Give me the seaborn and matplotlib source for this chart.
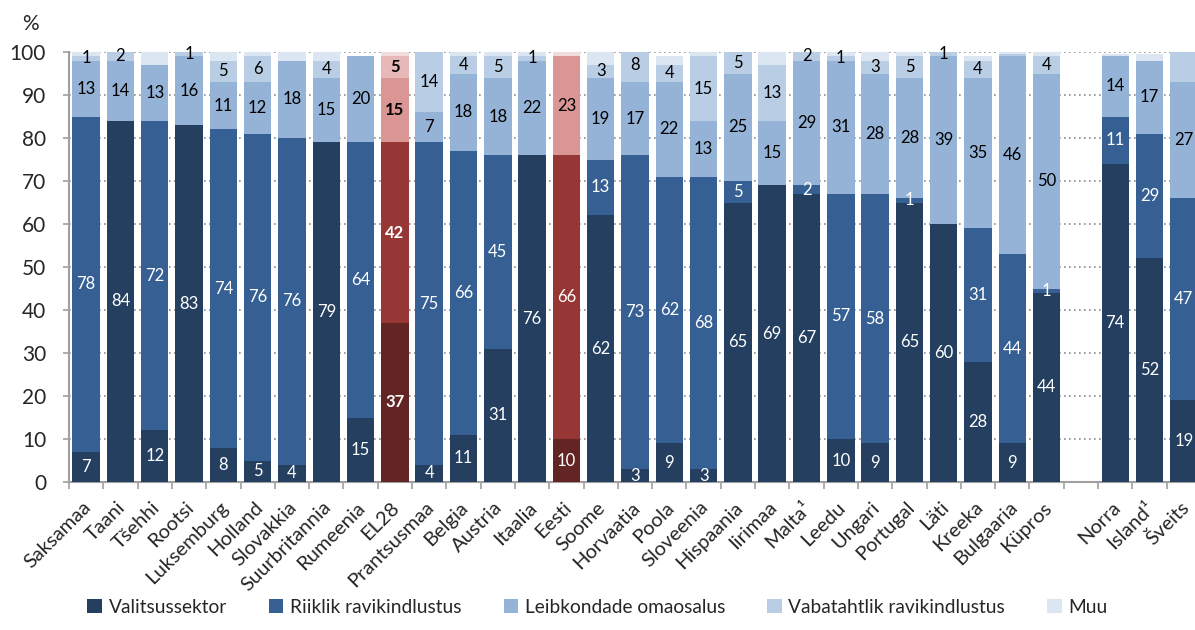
import matplotlib
matplotlib.use("Agg")
import matplotlib.pyplot as plt
import matplotlib.transforms as mtransforms
from matplotlib.patches import Patch
import seaborn as sns
import pandas as pd

# chart data (shares in %)
countries = ["Saksamaa", "Taani", "Tšehhi", "Rootsi", "Luksemburg", "Holland",
             "Slovakkia", "Suurbritannia", "Rumeenia", "EL28", "Prantsusmaa",
             "Belgia", "Austria", "Itaalia", "Eesti", "Soome", "Horvaatia",
             "Poola", "Sloveenia", "Hispaania", "Iirimaa", "Malta¹", "Leedu",
             "Ungari", "Portugal", "Läti", "Kreeka", "Bulgaaria", "Küpros",
             " ", "Norra", "Island¹", "Šveits"]

valitsussektor = [7, 84, 12, 83, 8, 5, 4, 79, 15, 37, 4, 11, 31, 76, 10, 62, 3,
                  9, 3, 65, 69, 67, 10, 9, 65, 60, 28, 9, 44, 0, 74, 52, 19]
riiklik = [78, 0, 72, 0, 74, 76, 76, 0, 64, 42, 75, 66, 45, 0, 66, 13, 73,
           62, 68, 5, 0, 2, 57, 58, 1, 0, 31, 44, 1, 0, 11, 29, 47]
leibkondade = [13, 14, 13, 16, 11, 12, 18, 15, 20, 15, 7, 18, 18, 22, 23, 19, 17,
               22, 13, 25, 15, 29, 31, 28, 28, 39, 35, 46, 50, 0, 14, 17, 27]
vabatahtlik = [1, 2, 0, 1, 5, 6, 0, 4, 0, 5, 14, 4, 5, 1, 0, 3, 8,
               4, 15, 5, 13, 2, 1, 3, 5, 1, 4, 0.5, 4, 0, 0, 0, 7]
muu = [1, 0, 3, 0, 2, 1, 2, 2, 0, 1, 0, 1, 1, 1, 1.5, 3, 0,
       2, 1, 0, 3, 0, 1, 2, 1, 0, 1, 0.5, 1, 0, 0.5, 1.5, 0]

series_names = ["Valitsussektor", "Riiklik ravikindlustus", "Leibkondade omaosalus",
                "Vabatahtlik ravikindlustus", "Muu"]
highlight = ["EL28", "Eesti"]
no_label = [("Šveits", "Vabatahtlik ravikindlustus")]

blues = ["#253f61", "#366093", "#95b3d7", "#b9cde5", "#dce6f2"]
reds = ["#632523", "#963735", "#d99694", "#e6b9b8", "#f2dcdb"]


def main():
    sns.set_theme(style="white")
    plt.rcParams["font.family"] = ["Lato", "DejaVu Sans"]

    df = pd.DataFrame({"country": countries})
    layers = [valitsussektor, riiklik, leibkondade, vabatahtlik, muu]
    for name, vals in zip(series_names, layers):
        df[name] = vals
    cum = df[series_names].cumsum(axis=1)

    fig = plt.figure(figsize=(11.95, 6.3), dpi=100)
    ax = fig.add_axes([69 / 1195, 148 / 630, 1132 / 1195, 430 / 630])

    # stacked bars: draw cumulative totals from the top layer down
    for i in reversed(range(len(series_names))):
        pal = {c: (reds[i] if c in highlight else blues[i]) for c in countries}
        plot_df = pd.DataFrame({"country": countries, "val": cum.iloc[:, i]})
        sns.barplot(data=plot_df, x="country", y="val", hue="country",
                    palette=pal, order=countries, dodge=False, legend=False,
                    width=0.8, saturation=1, linewidth=0, ax=ax, zorder=3)

    # value labels
    for j, c in enumerate(countries):
        base = 0
        for i, name in enumerate(series_names):
            v = df.loc[j, name]
            if i < 4 and v >= 1 and (c, name) not in no_label:
                col = "white" if i < 2 else "black"
                ax.text(j, base + v / 2, f"{v:.0f}", ha="center", va="center",
                        fontsize=12, color=col, zorder=5,
                        fontweight="bold" if c == "EL28" else "normal")
            base += v

    ax.set_ylim(0, 100)
    ax.set_xlim(-0.5, len(countries) - 0.5)
    ax.set_yticks(range(0, 101, 10))
    ax.tick_params(axis="y", labelsize=15, length=4.5, width=1.2, color="#a0a0a0",
                   direction="out", left=True, pad=12)
    ax.set_xticks(range(len(countries)))
    ax.set_xticklabels(countries, rotation=45, ha="right",
                       rotation_mode="anchor", fontsize=14.5)
    ax.tick_params(axis="x", length=0, pad=12)
    shift = mtransforms.ScaledTranslation(-4 / 100, 0, fig.dpi_scale_trans)
    for lab in ax.get_xticklabels():
        lab.set_transform(lab.get_transform() + shift)
    ax.set_xticks([k - 0.5 for k in range(len(countries) + 1)], minor=True)
    ax.tick_params(axis="x", which="minor", length=5, width=1.2, color="#a0a0a0",
                   direction="out", bottom=True)
    ax.set_xlabel("")
    ax.set_ylabel("")

    for y in range(10, 101, 10):
        ax.axhline(y, color="#8c8c8c", linestyle=(0, (1, 2)), linewidth=1.2, zorder=1)

    for side in ["top", "right"]:
        ax.spines[side].set_visible(False)
    for side in ["left", "bottom"]:
        ax.spines[side].set_color("#a0a0a0")
        ax.spines[side].set_linewidth(1.5)

    fig.text(22 / 1195, 1 - 24 / 630, "%", fontsize=15, va="center", ha="left")

    handles = [Patch(facecolor=col, edgecolor="none") for col in blues]
    fig.legend(handles, series_names, ncol=5, loc="lower center",
               bbox_to_anchor=(0.5, -0.005), frameon=False, fontsize=13.8,
               handlelength=0.75, handleheight=0.75, handletextpad=0.35,
               columnspacing=2.2)

    plt.savefig("out.png", dpi=100)


if __name__ == "__main__":
    main()
